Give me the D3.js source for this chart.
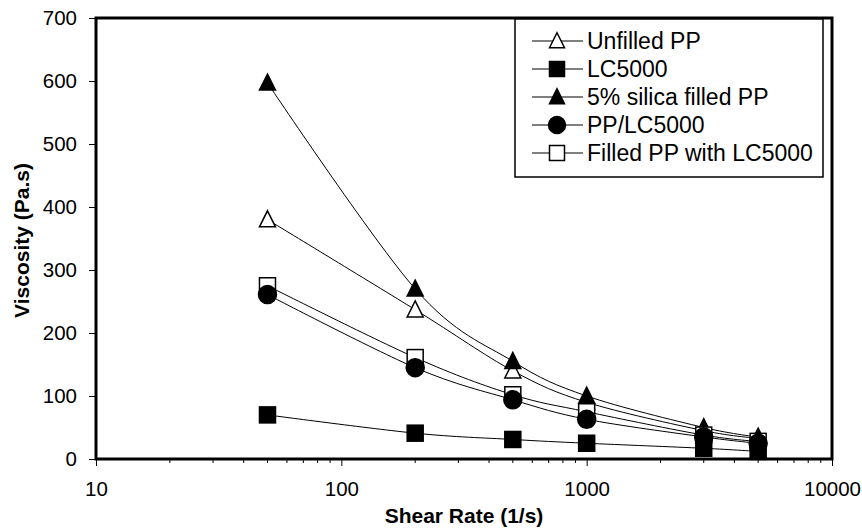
<!DOCTYPE html>
<html>
<head>
<meta charset="utf-8">
<script src="https://cdn.jsdelivr.net/npm/d3@7/dist/d3.min.js"></script>
<style>
  html, body { margin: 0; padding: 0; background: #fff; }
  svg { display: block; }
  text { font-family: Arial, "Liberation Sans", Helvetica, sans-serif; fill: #000; }
</style>
</head>
<body>
<svg id="chart" width="862" height="530"></svg>
<script>
// ---- data ----
const shearRates = [50, 200, 500, 1000, 3000, 5000];
const unfilledPP = [380, 237, 140, 90, 45, 33];
const lc5000 = [70, 41, 31, 25, 17, 12];
const silicaPP = [597, 270, 155, 100, 50, 35];
const ppLC5000 = [261, 145, 94, 63, 35, 25];
const filledPPLC = [275, 161, 102, 75, 38, 28];
const seriesNames = ["Unfilled PP", "LC5000", "5% silica filled PP", "PP/LC5000", "Filled PP with LC5000"];
const xTickValues = [10, 100, 1000, 10000];
const yTickValues = [0, 100, 200, 300, 400, 500, 600, 700];

const series = [
  { name: seriesNames[0], values: unfilledPP, marker: "triangle", fill: "#fff" },
  { name: seriesNames[1], values: lc5000, marker: "square", fill: "#000" },
  { name: seriesNames[2], values: silicaPP, marker: "triangle", fill: "#000" },
  { name: seriesNames[3], values: ppLC5000, marker: "circle", fill: "#000" },
  { name: seriesNames[4], values: filledPPLC, marker: "square", fill: "#fff" }
];
const drawOrder = [0, 2, 4, 3, 1];

// ---- layout ----
const L = 96, R = 832, T = 18, B = 459;
const svg = d3.select("#chart");
const x = d3.scaleLog().domain([10, 10000]).range([L, R]);
const y = d3.scaleLinear().domain([0, 700]).range([B, T]);

// ---- axes ----
const yAxis = d3.axisLeft(y).tickValues(yTickValues).tickSize(7).tickPadding(12).tickFormat(d3.format("d"));
const gy = svg.append("g").attr("transform", `translate(${L},0)`).call(yAxis);
gy.select(".domain").remove();
gy.selectAll("line").attr("stroke", "#000").attr("stroke-width", 1);
gy.selectAll("text").style("font-size", "20.5px");

// minor x ticks
const minor = [];
for (let d = 10; d < 10000; d *= 10) for (let k = 2; k <= 9; k++) minor.push(d * k);
svg.append("g").selectAll("line").data(minor).join("line")
  .attr("x1", d => x(d)).attr("x2", d => x(d))
  .attr("y1", B).attr("y2", B + 4)
  .attr("stroke", "#000").attr("stroke-width", 1);

const xAxis = d3.axisBottom(x).tickValues(xTickValues).tickSize(7).tickPadding(15).tickFormat(d3.format("d"));
const gx = svg.append("g").attr("transform", `translate(0,${B})`).call(xAxis);
gx.select(".domain").remove();
gx.selectAll("line").attr("stroke", "#000").attr("stroke-width", 1);
gx.selectAll("text").style("font-size", "20.5px");

// frame
svg.append("rect").attr("x", L).attr("y", T).attr("width", R - L).attr("height", B - T)
  .attr("fill", "none").attr("stroke", "#000").attr("stroke-width", 3);

// titles
svg.append("text").attr("x", (L + R) / 2).attr("y", 523).attr("text-anchor", "middle")
  .style("font-size", "21px").style("font-weight", "bold").text("Shear Rate (1/s)");
svg.append("text").attr("transform", `translate(29,${(T + B) / 2 + 2}) rotate(-90)`).attr("text-anchor", "middle")
  .style("font-size", "21px").style("font-weight", "bold").text("Viscosity (Pa.s)");

// ---- marker drawing ----
function drawMarker(g, type, fill, cx, cy, s) {
  if (type === "square") {
    g.append("rect").attr("x", cx - s / 2).attr("y", cy - s / 2).attr("width", s).attr("height", s)
      .attr("fill", fill).attr("stroke", "#000").attr("stroke-width", 1.5);
  } else if (type === "circle") {
    g.append("circle").attr("cx", cx).attr("cy", cy).attr("r", s / 2 + 1)
      .attr("fill", fill).attr("stroke", "#000").attr("stroke-width", 1.5);
  } else {
    const h = s;
    g.append("path")
      .attr("d", `M${cx},${cy - h * 0.55}L${cx + s / 2},${cy + h * 0.45}L${cx - s / 2},${cy + h * 0.45}Z`)
      .attr("fill", fill).attr("stroke", "#000").attr("stroke-width", 1.5);
  }
}

// ---- lines ----
const line = d3.line().x(d => x(d[0])).y(d => y(d[1])).curve(d3.curveCatmullRom.alpha(0));
const plot = svg.append("g");
series.forEach(s => {
  plot.append("path").datum(shearRates.map((r, i) => [r, s.values[i]]))
    .attr("d", line).attr("fill", "none").attr("stroke", "#000").attr("stroke-width", 1);
});
drawOrder.forEach(k => {
  const s = series[k];
  const g = plot.append("g");
  shearRates.forEach((r, i) => drawMarker(g, s.marker, s.fill, x(r), y(s.values[i]), 16));
});

// ---- legend ----
const lg = svg.append("g");
lg.append("rect").attr("x", 515).attr("y", 19).attr("width", 308).attr("height", 158)
  .attr("fill", "#fff").attr("stroke", "#000").attr("stroke-width", 1.5);
series.forEach((s, i) => {
  const yy = 41 + i * 28;
  lg.append("line").attr("x1", 532).attr("x2", 583).attr("y1", yy).attr("y2", yy)
    .attr("stroke", "#000").attr("stroke-width", 1);
  drawMarker(lg, s.marker, s.fill, 557, yy, 15);
  lg.append("text").attr("x", 587).attr("y", yy).attr("dy", "0.36em")
    .style("font-size", "23px").text(s.name);
});
</script>
</body>
</html>
